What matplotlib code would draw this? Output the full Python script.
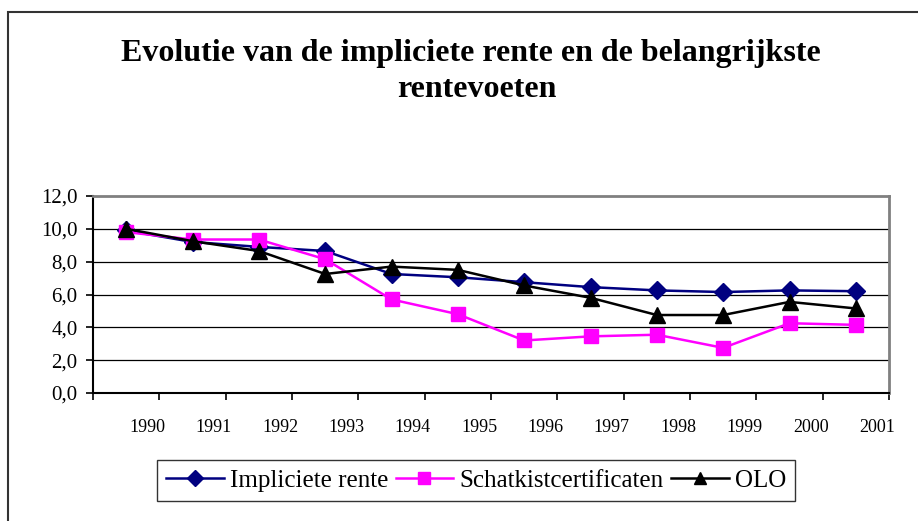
import numpy as np
import matplotlib.pyplot as plt
from matplotlib.patches import Rectangle
from matplotlib.transforms import ScaledTranslation
from matplotlib.ticker import FuncFormatter

years = ['1990', '1991', '1992', '1993', '1994', '1995',
         '1996', '1997', '1998', '1999', '2000', '2001']
impliciete_rente = [9.9, 9.2, 8.9, 8.65, 7.25, 7.05, 6.75, 6.45, 6.25, 6.15, 6.25, 6.2]
schatkist = [9.8, 9.35, 9.35, 8.15, 5.7, 4.8, 3.2, 3.45, 3.55, 2.75, 4.25, 4.15]
olo = [10.0, 9.25, 8.65, 7.25, 7.7, 7.5, 6.55, 5.8, 4.75, 4.75, 5.55, 5.15]

plt.rcParams['font.family'] = 'Liberation Serif'

fig = plt.figure(figsize=(9.18, 5.21), dpi=100)
W, H = 918, 521

# outer chart border (right and bottom edge fall outside the picture)
fig.patches.append(Rectangle((8 / W, -0.1), 2.0, 1 - 12 / H + 0.1,
                             transform=fig.transFigure, fill=False,
                             edgecolor='#333333', linewidth=1.5))

fig.text(471 / W, 1 - 61 / H, 'Evolutie van de impliciete rente en de belangrijkste',
         ha='center', va='baseline', fontsize=23, fontweight='bold')
fig.text(477 / W, 1 - 97 / H, 'rentevoeten',
         ha='center', va='baseline', fontsize=23, fontweight='bold')

ax = fig.add_axes([93 / W, 1 - 393 / H, (889 - 93) / W, (393 - 196) / H])

x = np.arange(len(years)) + 0.5
ax.plot(x, impliciete_rente, color='#000080', marker='D', markersize=9,
        linewidth=1.8, label='Impliciete rente', zorder=3)
ax.plot(x, schatkist, color='#FF00FF', marker='s', markersize=10,
        linewidth=1.8, label='Schatkistcertificaten', zorder=4)
ax.plot(x, olo, color='black', marker='^', markersize=11,
        linewidth=1.8, label='OLO', zorder=5)

ax.set_xlim(0, len(years))
ax.set_ylim(0, 12)
ax.set_yticks(np.arange(0, 13, 2))
ax.yaxis.set_major_formatter(FuncFormatter(lambda v, p: f'{v:.1f}'.replace('.', ',')))
ax.set_xticks(np.arange(0, len(years) + 1))
ax.set_xticklabels([''] + years)

for v in range(2, 12, 2):
    ax.axhline(v, color='black', linewidth=0.9, zorder=1)

ax.spines['top'].set_color('#808080')
ax.spines['top'].set_linewidth(2)
ax.spines['right'].set_color('#808080')
ax.spines['right'].set_linewidth(2)
ax.spines['left'].set_linewidth(1.5)
ax.spines['bottom'].set_linewidth(1.5)

ax.tick_params(axis='y', direction='out', length=5, width=1.2, labelsize=15, pad=6)
ax.tick_params(axis='x', direction='out', length=5, width=1.2, labelsize=13, pad=13.5)

# labels sit a bit left of their tick marks, as in the original
offset = ScaledTranslation(-12 / 100, 0, fig.dpi_scale_trans)
for lab in ax.get_xticklabels():
    lab.set_transform(lab.get_transform() + offset)

leg = fig.legend(loc='center', bbox_to_anchor=(476 / W, 1 - 480.5 / H), ncol=3,
                 fontsize=18, frameon=True, fancybox=False, handlelength=2.3,
                 handletextpad=0.25, columnspacing=0.3, borderpad=0.36,
                 borderaxespad=0, markerscale=0.85)
leg.get_frame().set_edgecolor('black')
leg.get_frame().set_linewidth(1.0)

fig.savefig('out.png', dpi=100)
